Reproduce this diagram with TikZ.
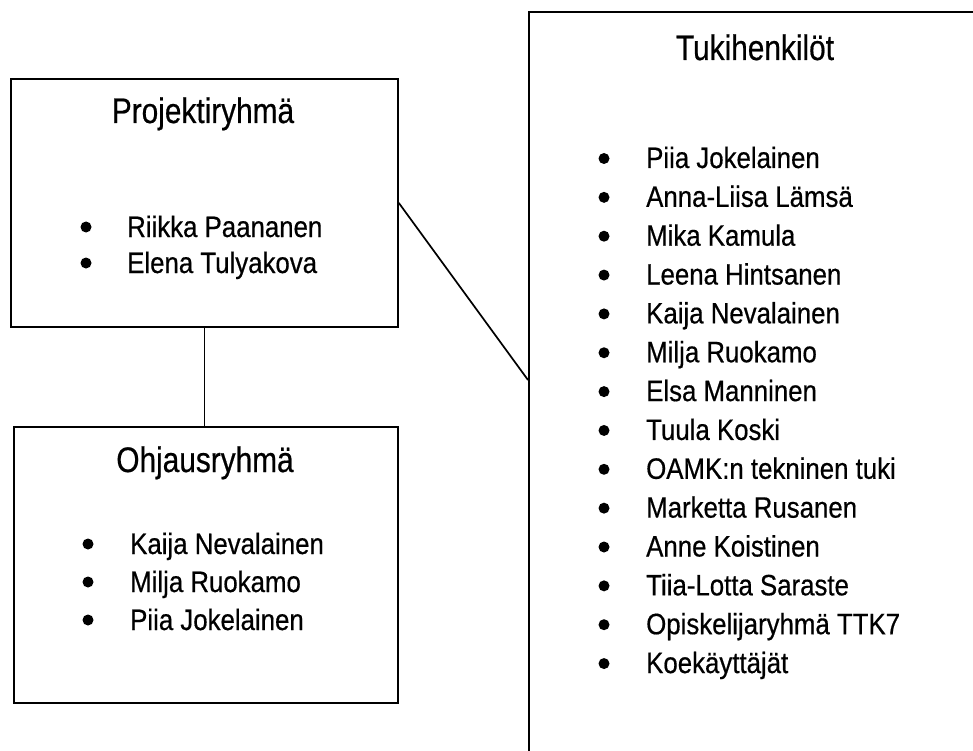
\documentclass[tikz,border=0pt]{standalone}
\usepackage{fontspec}
\newfontfamily\titlefont{Liberation Sans}[FakeStretch=0.84,FakeBold=0.5]
\newfontfamily\itemfont{Liberation Sans}[FakeStretch=0.875,FakeBold=0.5]
\begin{document}
\begin{tikzpicture}[x=1pt,y=-1pt,
  box/.style={draw, line width=1.8pt, rectangle, inner sep=0pt, anchor=north west},
  conn/.style={line width=1.7pt},
  title/.style={anchor=base, inner sep=0pt, font=\titlefont\fontsize{35.5}{42}\selectfont},
  item/.style={anchor=base west, inner sep=0pt, font=\itemfont\fontsize{29.5}{35}\selectfont},
  dot/.style={circle, fill, inner sep=0pt, minimum size=11pt}]
\useasboundingbox (0,0) rectangle (973,751);
\clip (0,0) rectangle (973,751);
% boxes
\node[box, minimum width=387pt, minimum height=248pt] (proj) at (10,78) {};
\node[box, minimum width=384pt, minimum height=276pt] (ohj) at (13,426) {};
\node[box, minimum width=480pt, minimum height=780pt] (tuki) at (528,11) {};
% connectors
\draw[conn] (proj.south) -- (proj.south |- ohj.north);
\coordinate (tj) at (528,380);
\draw[conn] (proj.east) -- (tj);
% Projektiryhmä
\node[title] (projT) at (203,123) {Projektiryhmä};
\foreach \t [count=\i] in {Riikka Paananen, Elena Tulyakova} {
  \pgfmathsetmacro\yy{237+(\i-1)*36}
  \node[dot] (pb\i) at (86,\yy-10) {};
  \node[item] (pi\i) at (127,\yy) {\t};
}
% Ohjausryhmä
\node[title] (ohjT) at (205,472) {Ohjausryhmä};
\foreach \t [count=\i] in {Kaija Nevalainen, Milja Ruokamo, Piia Jokelainen} {
  \pgfmathsetmacro\yy{554+(\i-1)*38}
  \node[dot] (ob\i) at (88,\yy-10) {};
  \node[item] (oi\i) at (130,\yy) {\t};
}
% Tukihenkilöt
\node[title] (tukiT) at (755,60) {Tukihenkilöt};
\foreach \t [count=\i] in {Piia Jokelainen, Anna-Liisa Lämsä, Mika Kamula, Leena Hintsanen, Kaija Nevalainen, Milja Ruokamo, Elsa Manninen, Tuula Koski, OAMK:n tekninen tuki, Marketta Rusanen, Anne Koistinen, Tiia-Lotta Saraste, Opiskelijaryhmä TTK7, Koekäyttäjät} {
  \pgfmathsetmacro\yy{168+(\i-1)*38.85}
  \node[dot] (tb\i) at (604,\yy-9.5) {};
  \node[item] (ti\i) at (646,\yy) {\t};
}
\end{tikzpicture}
\end{document}
